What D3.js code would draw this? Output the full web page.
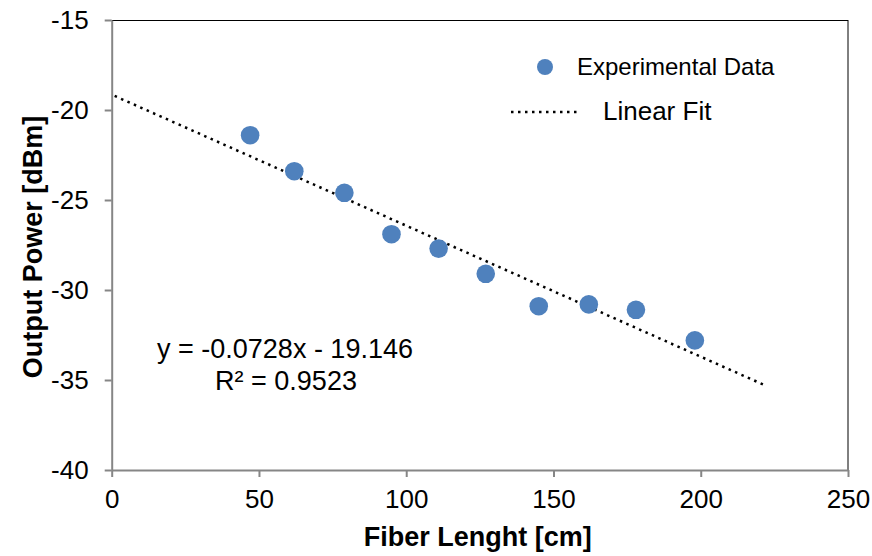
<!DOCTYPE html>
<html>
<head>
<meta charset="utf-8">
<script src="https://cdn.jsdelivr.net/npm/d3@7"></script>
<style>
  html, body { margin: 0; padding: 0; background: #fff; }
  svg { display: block; font-family: "Liberation Sans", Arial, sans-serif; }
</style>
</head>
<body>
<svg id="chart" width="872" height="556"></svg>
<script>
// ---- data ----
const fiberLength = [47, 62, 79, 95, 111, 127, 145, 162, 178, 198];
const outputPower = [-21.4, -23.4, -24.6, -26.9, -27.7, -29.1, -30.9, -30.8, -31.1, -32.8];
const fitSlope = -0.0728;
const fitIntercept = -19.146;
const fitRange = [1, 222];
const xTicks = [0, 50, 100, 150, 200, 250];
const yTicks = [-40, -35, -30, -25, -20, -15];
const xTitle = "Fiber Lenght [cm]";
const yTitle = "Output Power [dBm]";
const legendLabels = ["Experimental Data", "Linear Fit"];
const eqLines = ["y = -0.0728x - 19.146", "R\u00B2 = 0.9523"];

// ---- layout ----
const svg = d3.select("#chart");
const pLeft = 111.7, pRight = 848, pTop = 20, pBottom = 470;
const x = d3.scaleLinear().domain([0, 250]).range([pLeft, pRight]);
const y = d3.scaleLinear().domain([-40, -15]).range([pBottom, pTop]);
const axisGray = "#868686";
const blue = "#4F81BD";

// frame top/right (black)
svg.append("line").attr("x1", pLeft).attr("x2", pRight).attr("y1", pTop + 0.5).attr("y2", pTop + 0.5)
  .attr("stroke", "#000").attr("stroke-width", 1);
svg.append("line").attr("x1", pRight).attr("x2", pRight).attr("y1", pTop).attr("y2", pBottom)
  .attr("stroke", "#000").attr("stroke-width", 1);

// axes
const fmt = d => String(d);
const xAxis = svg.append("g").attr("transform", `translate(0,${pBottom})`)
  .call(d3.axisBottom(x).tickValues(xTicks).tickFormat(fmt).tickSize(7).tickPadding(13).tickSizeOuter(0));
const yAxis = svg.append("g").attr("transform", `translate(${pLeft},0)`)
  .call(d3.axisLeft(y).tickValues(yTicks).tickFormat(fmt).tickSize(7).tickPadding(16).tickSizeOuter(0));
[xAxis, yAxis].forEach(g => {
  g.select(".domain").attr("stroke", axisGray).attr("stroke-width", 2);
  g.selectAll(".tick line").attr("stroke", axisGray).attr("stroke-width", 2);
  g.selectAll(".tick text").attr("fill", "#000").style("font-size", "26px")
    .style("font-family", '"Liberation Sans", Arial, sans-serif');
});

// axis titles
svg.append("text").attr("x", (pLeft + pRight) / 2 - 2).attr("y", 546)
  .attr("text-anchor", "middle").style("font-size", "27px").style("font-weight", "bold")
  .text(xTitle);
svg.append("text").attr("transform", `translate(42,${(pTop + pBottom) / 2 + 2}) rotate(-90)`)
  .attr("text-anchor", "middle").style("font-size", "27px").style("font-weight", "bold")
  .text(yTitle);

// trendline
const line = d3.line().x(d => x(d)).y(d => y(fitSlope * d + fitIntercept));
svg.append("path").datum(fitRange).attr("d", line)
  .attr("fill", "none").attr("stroke", "#000").attr("stroke-width", 2.5)
  .attr("stroke-dasharray", "2.5,4.5");

// points
svg.append("g").selectAll("circle").data(fiberLength).join("circle")
  .attr("cx", d => x(d)).attr("cy", (d, i) => y(outputPower[i]))
  .attr("r", 9.3).attr("fill", blue);

// equation
const eq = svg.append("text").attr("text-anchor", "middle").style("font-size", "27px");
eq.append("tspan").attr("x", 285).attr("y", 358).text(eqLines[0]);
eq.append("tspan").attr("x", 286).attr("y", 390).text(eqLines[1]);

// legend
svg.append("circle").attr("cx", 545).attr("cy", 67).attr("r", 8).attr("fill", blue);
svg.append("text").attr("x", 577).attr("y", 75).style("font-size", "24px").text(legendLabels[0]);
svg.append("line").attr("x1", 511).attr("x2", 577).attr("y1", 112).attr("y2", 112)
  .attr("stroke", "#000").attr("stroke-width", 2.5).attr("stroke-dasharray", "2.5,4.5");
svg.append("text").attr("x", 603).attr("y", 120).style("font-size", "26px").text(legendLabels[1]);
</script>
</body>
</html>
